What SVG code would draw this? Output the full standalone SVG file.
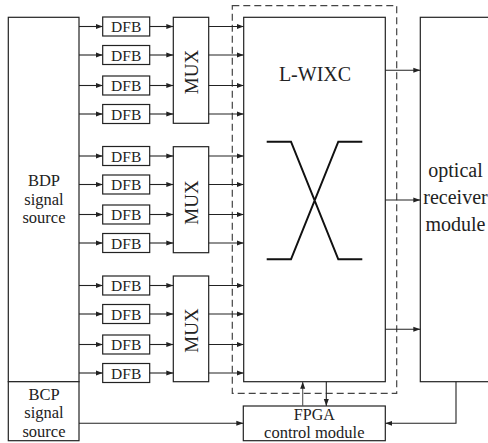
<svg xmlns="http://www.w3.org/2000/svg" width="488" height="443" viewBox="0 0 488 443">
<style>
.box{fill:#fff;stroke:#222;stroke-width:1.2}
.ln{fill:none;stroke:#222;stroke-width:1.1}
.t{font-family:'Liberation Serif','DejaVu Serif',serif;fill:#222;text-anchor:middle}
.dfb{font-size:15.5px}
.mux{font-size:19px}
.lg{font-size:16.5px}
</style>
<defs>
<marker id="ah" markerUnits="userSpaceOnUse" markerWidth="8" markerHeight="6" refX="7" refY="3" orient="auto">
<path d="M0,0.5 L7,3 L0,5.5 Z" fill="#222"/>
</marker>
</defs>
<rect x="0" y="0" width="488" height="443" fill="#fff"/>

<g id="bdp"><rect class="box" x="8.3" y="17.3" width="70.7" height="364.4"/>
<text class="t lg" x="44" y="186.3">BDP</text><text class="t lg" x="44" y="204.6">signal</text><text class="t lg" x="44" y="222.9">source</text></g>
<g id="bcp"><rect class="box" x="8.3" y="381.7" width="70.7" height="59"/>
<text class="t lg" x="44" y="400">BCP</text><text class="t lg" x="44" y="418.3">signal</text><text class="t lg" x="44" y="436.6">source</text></g>

<g id="dfbs">
<g id="dfb1"><rect class="box" x="102.7" y="17" width="47" height="19"/><text class="t dfb" x="126.2" y="32">DFB</text></g>
<g id="dfb2"><rect class="box" x="102.7" y="45.5" width="47" height="19"/><text class="t dfb" x="126.2" y="60.5">DFB</text></g>
<g id="dfb3"><rect class="box" x="102.7" y="76" width="47" height="19"/><text class="t dfb" x="126.2" y="91">DFB</text></g>
<g id="dfb4"><rect class="box" x="102.7" y="104.5" width="47" height="19"/><text class="t dfb" x="126.2" y="119.5">DFB</text></g>
<g id="dfb5"><rect class="box" x="102.7" y="146.5" width="47" height="19"/><text class="t dfb" x="126.2" y="161.5">DFB</text></g>
<g id="dfb6"><rect class="box" x="102.7" y="175" width="47" height="19"/><text class="t dfb" x="126.2" y="190">DFB</text></g>
<g id="dfb7"><rect class="box" x="102.7" y="205" width="47" height="19"/><text class="t dfb" x="126.2" y="220">DFB</text></g>
<g id="dfb8"><rect class="box" x="102.7" y="233.5" width="47" height="19"/><text class="t dfb" x="126.2" y="248.5">DFB</text></g>
<g id="dfb9"><rect class="box" x="102.7" y="276" width="47" height="19"/><text class="t dfb" x="126.2" y="291">DFB</text></g>
<g id="dfb10"><rect class="box" x="102.7" y="304.5" width="47" height="19"/><text class="t dfb" x="126.2" y="319.5">DFB</text></g>
<g id="dfb11"><rect class="box" x="102.7" y="335" width="47" height="19"/><text class="t dfb" x="126.2" y="350">DFB</text></g>
<g id="dfb12"><rect class="box" x="102.7" y="363.5" width="47" height="19"/><text class="t dfb" x="126.2" y="378.5">DFB</text></g>
</g>

<g id="mux1"><rect class="box" x="173.3" y="17.3" width="35.4" height="106"/><text class="t mux" transform="translate(197.6,72) rotate(-90)">MUX</text></g>
<g id="mux2"><rect class="box" x="173.3" y="146.7" width="35.4" height="106"/><text class="t mux" transform="translate(197.6,202.5) rotate(-90)">MUX</text></g>
<g id="mux3"><rect class="box" x="173.3" y="276" width="35.4" height="105.7"/><text class="t mux" transform="translate(197.6,330.5) rotate(-90)">MUX</text></g>

<g id="lwixc">
<rect class="box" x="243.7" y="17.3" width="141.6" height="364.4"/>
<text class="t" style="font-size:20px" x="315" y="81">L-WIXC</text>
<path d="M266.7,141.7 H291 L338.3,259.3 H362.3 M266.7,259.3 H291 L338.3,141.7 H362.3" fill="none" stroke="#111" stroke-width="2"/>
</g>
<rect id="dashed" x="232.3" y="5.7" width="164.4" height="387.6" fill="none" stroke="#444" stroke-width="1.2" stroke-dasharray="7,4"/>

<g id="receiver"><rect class="box" x="420.3" y="17.3" width="80" height="364.4"/>
<text class="t" style="font-size:20px" x="455.5" y="177.3">optical</text><text class="t" style="font-size:20px" x="455.5" y="204">receiver</text><text class="t" style="font-size:20px" x="455.5" y="230.7">module</text></g>

<g id="fpga"><rect class="box" x="243.3" y="406" width="142" height="34.7"/>
<text class="t" style="font-size:16px" x="314.3" y="419.5">FPGA</text><text class="t" style="font-size:16.5px" x="314.3" y="437.7">control module</text></g>

<g id="connectors">
<path class="ln" marker-end="url(#ah)" d="M79,26.5 H102.7"/><path class="ln" marker-end="url(#ah)" d="M79,55 H102.7"/><path class="ln" marker-end="url(#ah)" d="M79,85.5 H102.7"/><path class="ln" marker-end="url(#ah)" d="M79,114 H102.7"/>
<path class="ln" marker-end="url(#ah)" d="M79,156 H102.7"/><path class="ln" marker-end="url(#ah)" d="M79,184.5 H102.7"/><path class="ln" marker-end="url(#ah)" d="M79,214.5 H102.7"/><path class="ln" marker-end="url(#ah)" d="M79,243 H102.7"/>
<path class="ln" marker-end="url(#ah)" d="M79,285.5 H102.7"/><path class="ln" marker-end="url(#ah)" d="M79,314 H102.7"/><path class="ln" marker-end="url(#ah)" d="M79,344.5 H102.7"/><path class="ln" marker-end="url(#ah)" d="M79,373 H102.7"/>

<path class="ln" marker-end="url(#ah)" d="M149.7,26.5 H173.3"/><path class="ln" marker-end="url(#ah)" d="M149.7,55 H173.3"/><path class="ln" marker-end="url(#ah)" d="M149.7,85.5 H173.3"/><path class="ln" marker-end="url(#ah)" d="M149.7,114 H173.3"/>
<path class="ln" marker-end="url(#ah)" d="M149.7,156 H173.3"/><path class="ln" marker-end="url(#ah)" d="M149.7,184.5 H173.3"/><path class="ln" marker-end="url(#ah)" d="M149.7,214.5 H173.3"/><path class="ln" marker-end="url(#ah)" d="M149.7,243 H173.3"/>
<path class="ln" marker-end="url(#ah)" d="M149.7,285.5 H173.3"/><path class="ln" marker-end="url(#ah)" d="M149.7,314 H173.3"/><path class="ln" marker-end="url(#ah)" d="M149.7,344.5 H173.3"/><path class="ln" marker-end="url(#ah)" d="M149.7,373 H173.3"/>

<path class="ln" marker-end="url(#ah)" d="M208.7,26.5 H243.7"/><path class="ln" marker-end="url(#ah)" d="M208.7,55 H243.7"/><path class="ln" marker-end="url(#ah)" d="M208.7,85.5 H243.7"/><path class="ln" marker-end="url(#ah)" d="M208.7,114 H243.7"/>
<path class="ln" marker-end="url(#ah)" d="M208.7,156 H243.7"/><path class="ln" marker-end="url(#ah)" d="M208.7,184.5 H243.7"/><path class="ln" marker-end="url(#ah)" d="M208.7,214.5 H243.7"/><path class="ln" marker-end="url(#ah)" d="M208.7,243 H243.7"/>
<path class="ln" marker-end="url(#ah)" d="M208.7,285.5 H243.7"/><path class="ln" marker-end="url(#ah)" d="M208.7,314 H243.7"/><path class="ln" marker-end="url(#ah)" d="M208.7,344.5 H243.7"/><path class="ln" marker-end="url(#ah)" d="M208.7,373 H243.7"/>

<path class="ln" marker-end="url(#ah)" d="M385.3,70.3 H420.3"/><path class="ln" marker-end="url(#ah)" d="M385.3,200 H420.3"/><path class="ln" marker-end="url(#ah)" d="M385.3,329.3 H420.3"/>

<path class="ln" marker-end="url(#ah)" d="M79,423.3 H243.3"/>
<path class="ln" marker-end="url(#ah)" d="M456,381.7 V423.3 H385.3"/>
<path class="ln" style="stroke:#555" marker-end="url(#ah)" d="M302.7,406 V381.7"/>
<path class="ln" marker-end="url(#ah)" d="M326.3,381.7 V406"/>
</g>
</svg>
